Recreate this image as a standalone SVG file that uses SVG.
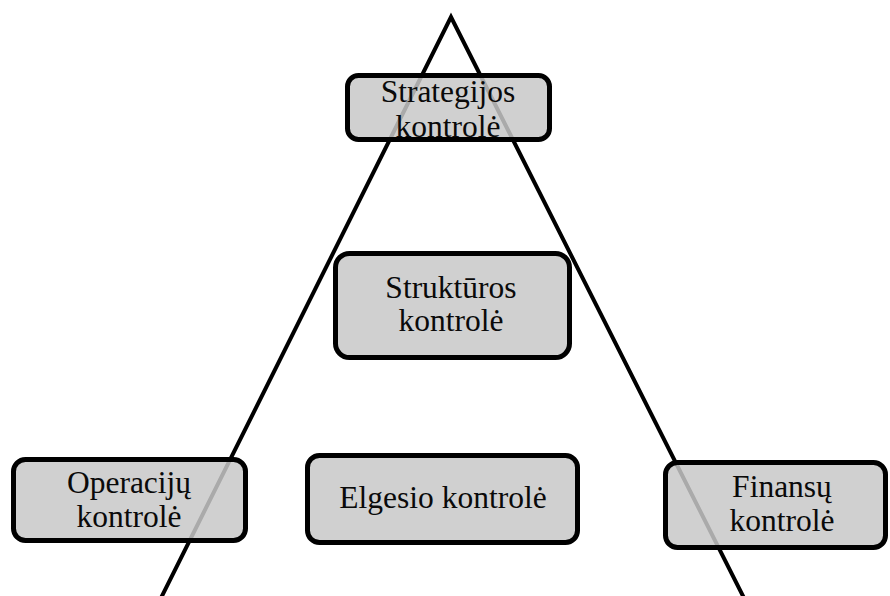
<svg xmlns="http://www.w3.org/2000/svg" width="890" height="596" viewBox="0 0 890 596">
  <style>
    .box { fill: #c8c8c8; fill-opacity: 0.85; stroke: #000; stroke-width: 5; }
    .lbl { font-family: "Liberation Serif", Tinos, "Times New Roman", "DejaVu Serif", serif; font-size: 31.5px; fill: #0a0a0a; text-anchor: middle; }
    .edge { fill: none; stroke: #000; stroke-width: 4; stroke-linejoin: miter; stroke-miterlimit: 10; }
  </style>
  <rect width="890" height="596" fill="#fff"/>

  <!-- triangle sides -->
  <g id="connectors">
    <polyline class="edge" points="160,600 451,17 745,600"/>
  </g>

  <g id="strategijos">
    <rect class="box" x="347.5" y="75.5" width="202" height="64" rx="11"/>
    <text class="lbl" x="448" y="102">Strategijos</text>
    <text class="lbl" x="448" y="137">kontrolė</text>
  </g>

  <g id="strukturos">
    <rect class="box" x="335.5" y="253.5" width="234" height="104" rx="14"/>
    <text class="lbl" x="451" y="298">Struktūros</text>
    <text class="lbl" x="451" y="331">kontrolė</text>
  </g>

  <g id="operaciju">
    <rect class="box" x="13.5" y="459.5" width="232" height="81" rx="12"/>
    <text class="lbl" x="129" y="493">Operacijų</text>
    <text class="lbl" x="129" y="527">kontrolė</text>
  </g>

  <g id="elgesio">
    <rect class="box" x="307.5" y="455.5" width="270" height="87" rx="12"/>
    <text class="lbl" x="443" y="508">Elgesio kontrolė</text>
  </g>

  <g id="finansu">
    <rect class="box" x="665.5" y="462.5" width="220" height="85" rx="12"/>
    <text class="lbl" x="782" y="497">Finansų</text>
    <text class="lbl" x="782" y="531">kontrolė</text>
  </g>
</svg>
